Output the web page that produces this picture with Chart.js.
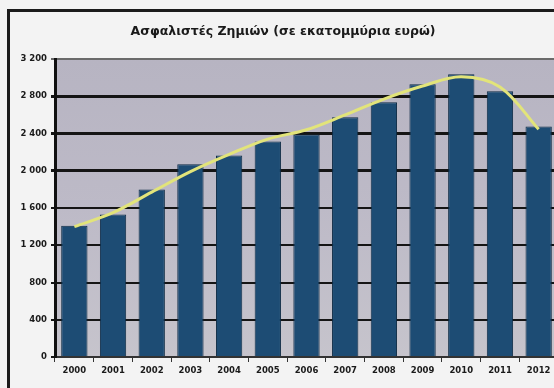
<!DOCTYPE html>
<html>
<head>
<meta charset="utf-8">
<script src="https://cdn.jsdelivr.net/npm/chart.js@4/dist/chart.umd.min.js"></script>
<style>
  html, body { margin: 0; padding: 0; overflow: hidden; background: #f3f3f3; }
  #wrap { position: relative; width: 560px; height: 388px; }
  #frame {
    position: absolute; left: 7px; top: 9px; right: 0; bottom: 0;
    border-left: 3px solid #1b1b1b; border-top: 3px solid #1b1b1b;
    pointer-events: none;
  }
</style>
</head>
<body>
<div id="wrap">
  <canvas id="chartZimion" width="560" height="388"></canvas>
  <div id="frame"></div>
</div>
<script>
// Ασφαλιστές ζημιών, εκατ. ευρώ ανά έτος
const years = ['2000', '2001', '2002', '2003', '2004', '2005', '2006',
               '2007', '2008', '2009', '2010', '2011', '2012'];
const premiums = [1410, 1530, 1800, 2070, 2165, 2315, 2390,
                  2575, 2735, 2930, 3035, 2855, 2475];
// γραμμή τάσης (πολυωνυμική)
const trend = [1400, 1550, 1770, 1990, 2175, 2340, 2440,
               2600, 2770, 2910, 3010, 2900, 2445];
const yTicks = [0, 400, 800, 1200, 1600, 2000, 2400, 2800, 3200];

const fmt = (v) => String(v).replace(/\B(?=(\d{3})+(?!\d))/g, ' ');
const tickFont = { family: 'DejaVu Sans', size: 8.5, weight: 'bold' };

// Φόντο περιοχής γραφήματος
const plotBg = {
  id: 'plotBg',
  beforeDraw(chart) {
    const { ctx, chartArea: a } = chart;
    const g = ctx.createLinearGradient(0, a.top, 0, a.bottom);
    g.addColorStop(0, '#b7b4c2');
    g.addColorStop(0.5, '#bdbac7');
    g.addColorStop(1, '#c6c4cc');
    ctx.save();
    ctx.fillStyle = g;
    ctx.fillRect(a.left, a.top, a.right - a.left, a.bottom - a.top);
    ctx.restore();
  }
};

const ctx = document.getElementById('chartZimion');
new Chart(ctx, {
  data: {
    labels: years,
    datasets: [{
      type: 'line',
      label: 'Τάση',
      data: trend,
      borderColor: '#e2e47a',
      borderWidth: 3,
      pointRadius: 0,
      tension: 0.35,
      order: 0
    }, {
      type: 'bar',
      label: 'Ασφαλιστές Ζημιών',
      data: premiums,
      backgroundColor: '#1d4c74',
      borderColor: '#0f2c46',
      borderWidth: 1,
      barPercentage: 0.68,
      categoryPercentage: 1,
      order: 1
    }]
  },
  options: {
    responsive: false,
    animation: false,
    layout: { padding: { left: 8, right: 2, top: 0, bottom: 0 } },
    plugins: {
      legend: { display: false },
      tooltip: { enabled: false },
      title: {
        display: true,
        text: 'Ασφαλιστές Ζημιών (σε εκατομμύρια ευρώ)',
        color: '#1a1a1a',
        font: { family: 'DejaVu Sans', size: 12.5, weight: 'bold' },
        padding: { top: 24, bottom: 20 }
      }
    },
    scales: {
      x: {
        grid: {
          display: true,
          offset: true,
          drawOnChartArea: false,
          tickLength: 5,
          color: '#333'
        },
        border: { color: '#333', width: 2 },
        ticks: {
          color: '#1a1a1a',
          padding: 4,
          maxRotation: 0,
          font: tickFont
        },
        afterFit: (s) => { s.height = 31; }
      },
      y: {
        min: 0,
        max: 3200,
        afterBuildTicks: (s) => { s.ticks = yTicks.map(v => ({ value: v })); },
        grid: {
          color: (c) => c.tick && c.tick.value === 3200 ? '#6a6a6a' : '#151515',
          lineWidth: (c) => {
            const v = c.tick ? c.tick.value : 0;
            if (v >= 2000 && v <= 2800) return 3;
            return 2;
          },
          tickLength: 4
        },
        border: { color: '#101010', width: 3 },
        ticks: {
          color: '#1a1a1a',
          padding: 4,
          callback: (v) => fmt(v),
          font: tickFont
        },
        afterFit: (s) => { s.width = 47; }
      }
    }
  },
  plugins: [plotBg]
});
</script>
</body>
</html>
